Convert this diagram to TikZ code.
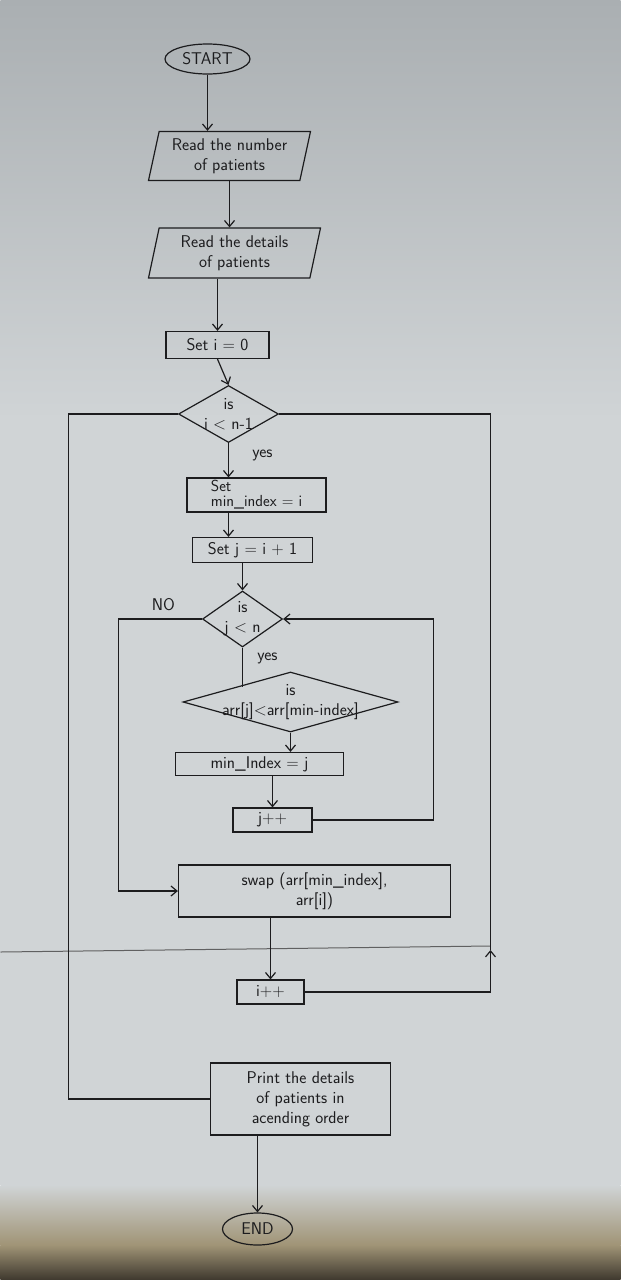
\documentclass[tikz,border=0pt]{standalone}
\usepackage{tikz}
\usetikzlibrary{shapes.geometric,arrows.meta}

\definecolor{paper}{RGB}{208,212,214}
\definecolor{paperdark}{RGB}{170,175,178}
\definecolor{floorlight}{RGB}{160,148,118}
\definecolor{floor}{RGB}{62,56,46}
\definecolor{ink}{RGB}{28,28,30}

\begin{document}
\begin{tikzpicture}[x=1pt, y=-1pt, line width=1.2pt, color=ink,
  font=\sffamily\fontsize{17}{20}\selectfont,
  >={Straight Barb[length=6pt,width=10pt]},
  term/.style={ellipse, draw, inner sep=0pt},
  io/.style={trapezium, trapezium left angle=74, trapezium right angle=106,
    trapezium stretches body, draw, align=center, inner sep=1pt},
  proc/.style={rectangle, draw, align=center, inner sep=1pt},
  decision/.style={diamond, draw, inner sep=0pt}]

% Photo background
\shade[top color=paperdark, bottom color=paper] (0,0) rectangle (620,420);
\fill[paper] (0,420) rectangle (620,1185);
\shade[top color=paper, bottom color=floorlight] (0,1185) rectangle (620,1245);
\shade[top color=floorlight, bottom color=floor] (0,1245) rectangle (620,1280);

% Paper seam
\draw[ink!70, line width=1pt] (0,952) -- (490,946);

% Nodes
\node[term, minimum width=85, minimum height=30] (start) at (207,59) {START};
\node[io, minimum width=162, minimum height=49] (rdnum) at (229,156) {Read the number\\of patients};
\node[io, minimum width=172, minimum height=50] (rddet) at (234,253) {Read the details\\of patients};
\node[proc, minimum width=103, minimum height=27] (seti) at (217,345) {Set i = 0};
\node[decision, minimum width=100, minimum height=57,
  label={[align=center]center:{is\\i < n-1}}] (condi) at (228,414) {};
\node[proc, minimum width=139, minimum height=34, align=left,
  font=\sffamily\fontsize{16}{15}\selectfont] (setmin) at (256,495) {Set\\min\_index = i};
\node[proc, minimum width=120, minimum height=25] (setj) at (252,550) {Set j = i + 1};
\node[decision, minimum width=80, minimum height=56,
  label={[align=center]center:{is\\j < n}}] (condj) at (242,619) {};
\node[decision, minimum width=215, minimum height=60,
  label={[align=center]center:{is\\arr[j]<arr[min-index]}}] (condarr) at (290,702) {};
\node[proc, minimum width=168, minimum height=23] (setminj) at (259,764) {min\_Index = j};
\node[proc, minimum width=79, minimum height=24] (jinc) at (272,820) {j++};
\node[proc, minimum width=272, minimum height=52] (swap) at (314,891) {swap (arr[min\_index],\\arr[i])};
\node[proc, minimum width=67, minimum height=24] (iinc) at (270,992) {i++};
\node[proc, minimum width=180, minimum height=72] (print) at (300,1099) {Print the details\\of patients in\\acending order};
\node[term, minimum width=70, minimum height=32] (stop) at (257,1229) {END};

% Branch labels
\node (yesi) at (262,455) {yes};
\node (yesj) at (267,658) {yes};
\node (noj) at (163,605) {NO};

% Loop corners
\coordinate (il) at (68,414);
\coordinate (ir) at (490,950);
\coordinate (jl) at (118,612);
\coordinate (jr) at (433,820);

% Main flow
\draw[->] (start) -- (start |- rdnum.north);
\draw[->] (rdnum.south) -- (rdnum.south |- rddet.north);
\draw[->] (rddet.south -| seti) -- (seti.north);
\draw[->] (seti.south) -- (condi.north);
\draw[->] (condi.south) -- (condi.south |- setmin.north);
\draw[->] (setmin.south -| condi) -- (condi |- setj.north);
\draw[->] (setj.south -| condj) -- (condj.north);
\draw (condj.south) -- (condj.south |- condarr.north west);
\draw[->] (condarr.south) -- (condarr.south |- setminj.north);
\draw[->] (setminj.south -| jinc) -- (jinc.north);
\draw[->] (swap.south -| iinc) -- (iinc.north);
\draw[->] (print.south -| stop) -- (stop.north);

% Inner loop
\draw[->] (jinc.east) -- (jinc.east -| jr) |- (condj.east);
\draw[->] (condj.west) -- (condj.west -| jl) |- (swap.west);

% Outer loop
\draw[->] (iinc.east) -| (ir);
\draw (ir) |- (condi.east);
\draw (condi.west) -- (condi.west -| il) |- (print.west);

\end{tikzpicture}
\end{document}
